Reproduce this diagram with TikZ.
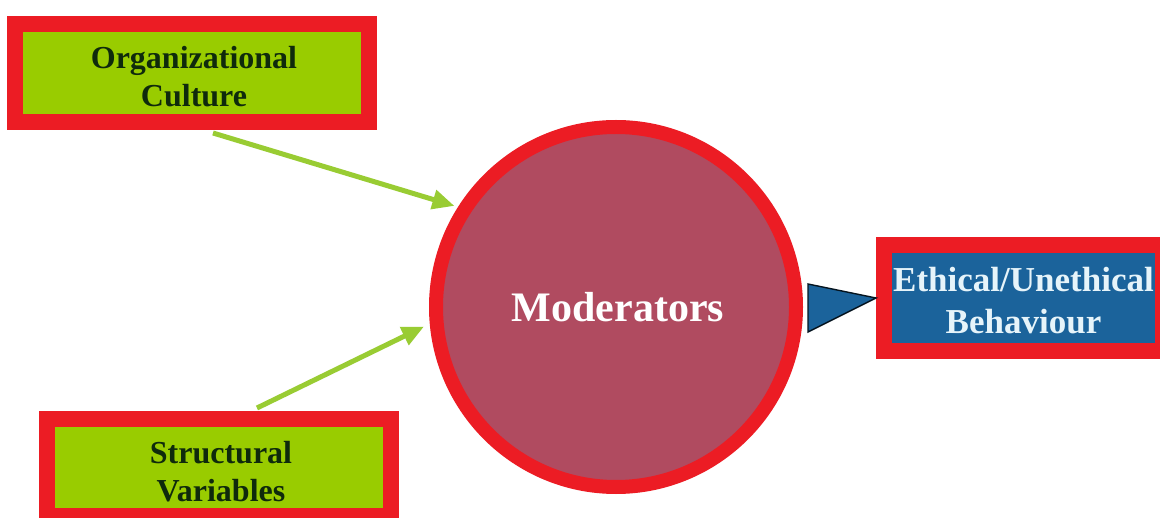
\documentclass[tikz,border=0pt]{standalone}
\usepackage{fontspec}
\setmainfont{Liberation Serif}
\usetikzlibrary{arrows.meta,calc}

\definecolor{frame}{HTML}{EC1C24}
\definecolor{leaf}{HTML}{99CC00}
\definecolor{leaftext}{HTML}{0F2A0C}
\definecolor{deepblue}{HTML}{1B639B}
\definecolor{paleblue}{HTML}{E6F4FA}
\definecolor{rose}{HTML}{B04B60}
\definecolor{shaft}{HTML}{99CC33}

\tikzset{
  factor/.style={rectangle, draw=frame, line width=16, fill=leaf},
  factortext/.style={text=leaftext, align=center, font=\bfseries\fontsize{32}{38}\selectfont},
  outcome/.style={rectangle, draw=frame, line width=16, fill=deepblue},
  outcometext/.style={text=paleblue, align=center, font=\bfseries\fontsize{35}{42}\selectfont},
  hub/.style={circle, draw=frame, line width=14, fill=rose},
  hubtext/.style={text=white, font=\bfseries\fontsize{42}{48}\selectfont},
  feed/.style={draw=shaft, line width=5, -{Triangle[length=22,width=19]}},
  pointer/.style={draw=black!80!deepblue, line width=1.4, fill=deepblue, line join=miter}
}

\begin{document}
\begin{tikzpicture}[x=1pt, y=-1pt]
  \useasboundingbox[fill=white] (0,0) rectangle (1160,518);

  % input factors and outcome
  \node[factor, minimum width=354, minimum height=98] (org) at (192,73) {};
  \node[factortext] (orgtext) at ($(org.center)+(2,4)$) {Organizational\\Culture};
  \node[factor, minimum width=344, minimum height=97] (str) at (219,467.5) {};
  \node[factortext] (strtext) at ($(str.center)+(2,4)$) {Structural\\Variables};
  \node[outcome, minimum width=279, minimum height=106] (beh) at (1023.5,298) {};
  \node[outcometext] (behtext) at ($(beh.center)+(0,3)$) {Ethical/Unethical\\Behaviour};

  % central moderator
  \node[hub, minimum size=360] (mod) at (616,307) {};
  \node[hubtext] (modtext) at (618,307) {Moderators};

  % green feeds into the moderator
  \draw[feed] ($(org.south west)+(206,3)$) -- ($(mod.148)+(-3,-2)$);
  \draw[feed] ($(str.north west)+(218,-3)$) -- ($(mod.186)+(-6,0)$);

  % pointer from the moderator to the behaviour box
  \draw[pointer] ($(mod.east)+(5,-23)$) -- ($(mod.east)+(5,25)$) -- (beh.west) -- cycle;
\end{tikzpicture}
\end{document}
